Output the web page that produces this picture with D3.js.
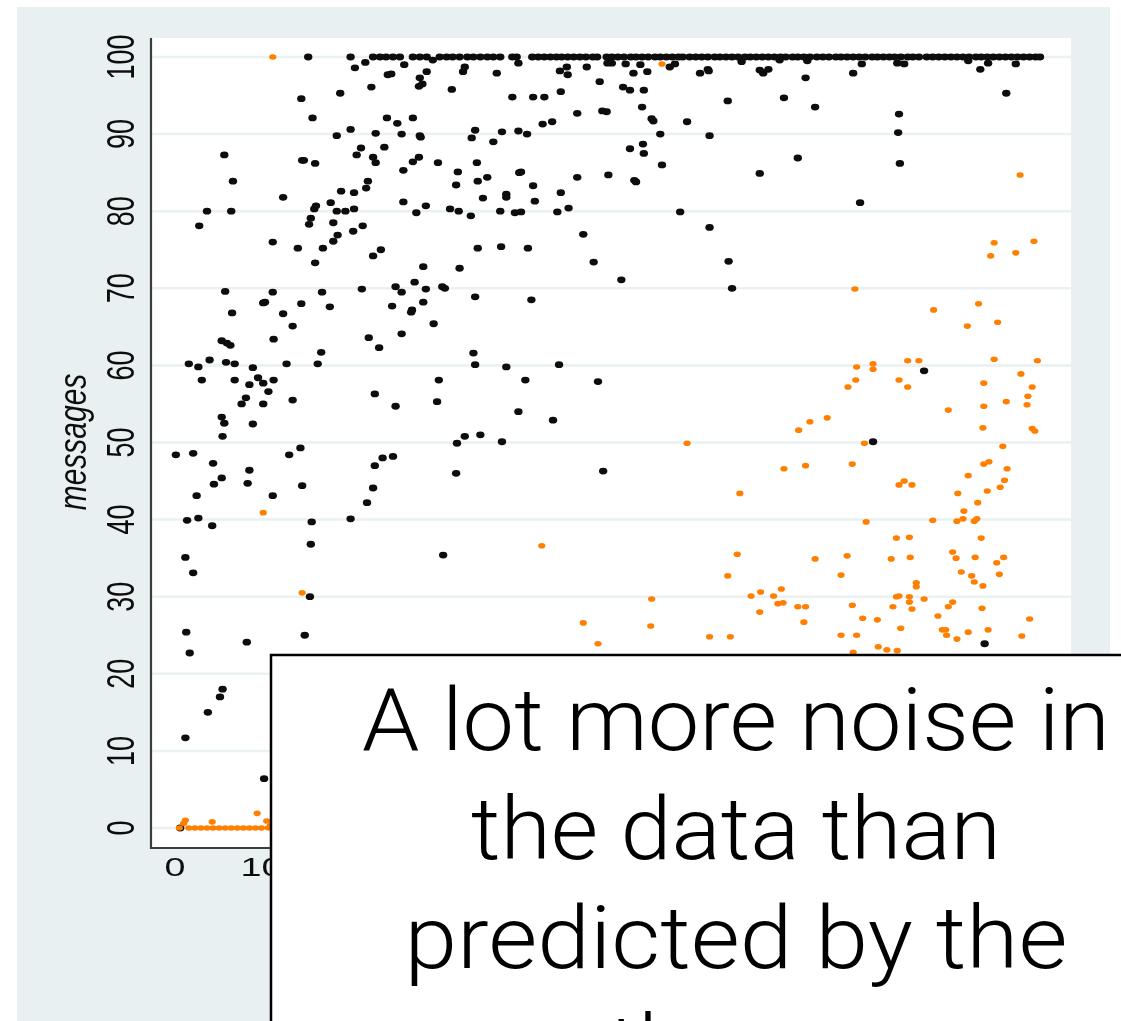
<!DOCTYPE html>
<html>
<head>
<meta charset="utf-8">
<script src="https://cdn.jsdelivr.net/npm/d3@7"></script>
<style>
  html, body { margin: 0; padding: 0; background: #ffffff; overflow: hidden; }
  svg { display: block; }
</style>
</head>
<body>
<svg id="chart" width="1121" height="1021"></svg>
<script>
// Axis ticks (only the x labels left of the callout are visible)
const yTickValues = [0, 10, 20, 30, 40, 50, 60, 70, 80, 90, 100];
const xTickValues = [0, 10];
const yAxisTitle = "messages";

// Callout text, one entry per line, with the set width of each full line
const calloutLines = ["A lot more noise in", "the data than", "predicted by the", "theory"];
const calloutWidths = [748, 530, 663, null];

// Observations sent at the full 100 messages (black series)
const fullMessagesX = [
  15.4, 20.3, 22.9, 23.7, 24.4, 25.2, 26.0, 27.5, 28.3, 29.1, 30.6, 31.4, 32.1, 32.9, 33.8,
  34.5, 35.3, 36.1, 36.8, 37.6, 39.0, 39.5, 41.3, 42.0, 42.7, 43.4, 44.1, 44.7, 45.4, 46.1,
  46.8, 47.5, 48.3, 48.8, 49.9, 50.5, 51.2, 51.9, 52.7, 53.3, 54.0, 54.7, 55.5, 56.1, 56.8,
  57.5, 58.2, 58.7, 59.5, 60.2, 60.9, 61.6, 62.4, 63.0, 63.7, 64.4, 65.1, 65.9, 66.5, 67.2,
  67.9, 68.6, 69.3, 70.0, 70.6, 71.4, 72.0, 72.7, 73.4, 74.2, 74.9, 75.6, 76.4, 77.0, 77.7,
  78.4, 79.1, 79.8, 80.6, 81.2, 81.9, 82.6, 83.2, 83.9, 84.7, 85.3, 86.0, 86.9, 87.6, 88.3,
  89.0, 89.7, 90.4, 91.1, 91.8, 92.6, 93.2, 93.9, 94.6, 95.3, 96.0, 96.7, 97.4, 98.1, 98.8,
  99.5, 100
];

// Remaining black observations [x, messages]
const blackPoints = [
  [0.1,48.4],[1.2,35.1],[2.1,33.1],[1.3,25.4],[1.7,22.7],[1.2,11.7],[1.4,39.9],[2.7,40.2],
  [2.1,48.6],[1.6,60.2],[2.7,59.8],[2.8,78.1],[3.7,80.0],[5.7,87.3],[6.7,83.9],[6.5,80.0],
  [2.5,43.1],[4.4,47.3],[4.3,39.2],[3.8,15.0],[5.2,17.0],[5.5,18.0],[4.0,60.7],[3.1,58.1],
  [4.5,44.6],[5.4,45.4],[5.4,53.3],[5.7,52.5],[5.5,50.8],[5.4,63.2],[6.0,62.9],[6.4,62.6],
  [5.9,60.4],[6.9,60.2],[6.9,58.1],[6.6,66.8],[5.8,69.6],[8.2,55.8],[7.7,55.0],[8.6,57.5],
  [8.6,46.4],[8.4,44.7],[9.0,59.7],[9.0,52.4],[8.3,24.1],[9.6,58.4],[10.2,57.7],[10.2,55.0],
  [10.4,68.2],[10.2,68.1],[10.3,6.4],[11.3,76.0],[11.3,69.5],[11.4,63.4],[11.4,58.1],
  [10.8,56.6],[11.3,43.1],[0.6,0],
  [12.5,81.8],[12.5,66.7],[12.9,60.2],[13.2,48.4],[13.6,65.1],[13.6,55.5],[14.2,75.2],
  [14.5,49.3],[14.6,94.6],[14.7,86.6],[14.9,86.6],[14.6,68.0],[14.7,44.4],[15.0,25.0],
  [15.6,30.0],[15.7,79.1],[15.5,78.3],[15.7,36.8],[15.8,39.7],[15.9,92.1],[16.1,80.3],
  [16.2,86.2],[16.2,73.3],[16.3,80.7],[16.5,60.2],[16.9,61.7],[17.0,69.5],[17.1,75.2],
  [17.9,67.6],[18.0,81.1],[18.3,78.5],[18.7,89.8],[18.7,80.0],[18.8,76.9],[18.3,76.1],
  [19.1,95.3],[19.2,82.6],[19.7,80.0],[20.3,90.6],[20.3,40.1],[20.6,77.4],[20.7,82.4],
  [20.7,80.3],[20.8,98.6],[21.0,87.3],[21.5,88.2],[21.6,69.9],[21.7,78.1],[22.0,99.3],
  [22.1,83.0],[22.3,83.9],[22.4,63.6],[22.2,42.2],[22.7,96.1],[22.9,87.0],[22.9,74.2],
  [22.9,44.1],[23.1,47.0],[23.1,56.3],[23.2,90.1],[23.2,86.3],[23.6,62.3],[23.8,75.0],
  [24.0,48.0],[24.2,88.3],[24.5,92.1],[24.6,97.7],[25.0,97.8],[25.1,67.7],[25.2,48.2],
  [25.5,70.2],[25.5,54.7],[25.7,91.4],
  [26.5,99.0],[26.2,90.0],[26.4,85.3],[26.4,81.2],[26.2,69.5],[26.2,64.1],[27.3,66.9],
  [27.4,67.2],[27.5,92.1],[27.5,86.4],[27.7,70.8],[27.9,79.8],[28.3,97.3],[28.2,96.2],
  [28.6,96.5],[28.3,89.8],[28.4,89.6],[28.2,87.0],[28.7,72.8],[28.7,68.2],[29.1,98.1],
  [29.0,80.7],[29.0,69.9],[29.8,99.6],[29.9,65.4],[30.3,55.3],[30.4,86.3],[30.5,58.1],
  [30.9,70.2],[31.2,70.0],[31.0,35.4],[31.8,80.3],[32.0,95.8],[32.5,46.0],[32.6,49.9],
  [32.7,85.1],[32.5,83.4],[32.8,80.0],[32.9,72.6],[33.3,98.1],[33.5,98.7],[33.5,50.8],
  [34.2,79.4],[34.3,89.5],[34.5,61.6],[34.7,90.5],[34.7,68.9],[34.7,60.1],[34.9,86.3],
  [35.0,83.9],[35.0,75.2],[35.3,51.0],[35.6,81.7],[36.1,84.4],[36.8,89.0],[37.2,97.9],
  [37.6,80.0],[37.7,75.4],[37.8,90.3],[37.8,50.1],[38.3,82.2],[38.3,81.8],[38.3,59.8],
  [39.0,94.8],[39.3,79.8],[39.7,99.2],[39.7,90.4],[39.7,54.0],[39.8,85.0],[40.0,85.1],
  [40.0,79.9],
  [40.5,58.1],[40.7,90.0],[40.8,75.2],[41.2,68.5],[41.4,94.8],[41.4,83.3],[41.6,81.3],
  [42.5,91.3],[42.7,94.8],[43.6,91.6],[43.7,52.9],[44.2,79.9],[44.4,60.1],[44.5,98.2],
  [44.6,95.5],[44.6,82.4],[45.3,98.7],[45.4,97.7],[45.5,80.4],[46.5,92.7],[46.5,84.4],
  [47.2,77.0],[47.6,98.7],[48.4,73.4],[48.9,57.9],[49.1,96.8],[49.4,93.0],[49.9,92.9],
  [49.5,46.3],[50.0,99.2],[50.1,84.7],[50.5,99.2],[51.6,71.1],[51.8,96.1],[52.1,99.1],
  [52.6,95.7],[52.6,88.1],[53.0,97.9],[53.1,84.0],[53.3,83.8],[53.8,99.0],[54.0,93.5],
  [54.1,88.7],[54.2,95.7],[54.2,87.5],[54.6,98.1],[55.1,92.0],[55.3,91.7],[56.1,90.0],
  [56.3,86.0],[57.2,98.7],[57.8,99.1],[58.4,79.9],[59.2,91.6],
  [60.7,97.9],[61.6,98.4],[61.7,98.2],[61.8,89.8],[61.8,77.9],[63.9,94.3],[64.0,73.5],
  [64.4,70.0],[65.5,99.4],[67.6,98.3],[68.0,97.9],[68.6,98.4],[67.6,84.9],[69.9,99.6],
  [70.4,94.7],[72.0,86.9],[72.9,97.3],[73.1,99.5],[74.0,93.5],[78.4,97.9],[79.2,81.1],
  [79.4,99.1],[80.7,50.1],[83.5,99.2],[84.3,99.1],[83.7,92.6],[83.6,90.2],[83.8,86.2],
  [86.6,59.3],[91.7,99.5],[93.1,98.4],[94.0,99.2],[93.6,23.9],[96.1,95.3],[97.2,99.1]
];

// Orange observations [x, messages]
const orangePoints = [
  [11.3,100],[56.3,99.1],[10.2,40.9],[14.7,30.5],
  [0.5,0],[1.0,0.6],[1.2,1.0],[1.6,0],[2.3,0],[3.0,0],[3.7,0],[4.3,0.8],[4.4,0],[5.1,0],
  [5.8,0],[6.5,0],[7.2,0],[7.9,0],[8.6,0],[9.3,0],[9.5,1.9],[10.0,0],[10.6,0.9],[10.8,0],
  [11.0,0.3],
  [42.4,36.6],[47.2,26.6],[48.9,23.9],[55.1,29.7],[55.0,26.2],[59.2,49.9],[61.8,24.8],
  [64.2,24.8],[63.9,32.7],[65.0,35.5],[65.3,43.4],[66.6,30.1],[67.7,30.6],[67.6,28.0],
  [69.2,30.1],[69.7,29.1],[70.3,29.2],[70.1,31.0],[70.4,46.6],[72.0,28.7],[72.9,28.7],
  [72.7,26.7],[72.9,47.0],[72.1,51.6],[73.4,52.7],[75.4,53.2],[74.0,34.9],[77.0,32.8],
  [77.0,25.0],[77.7,35.3],[77.8,57.2],[78.3,47.2],[78.3,28.9],[78.4,22.8],[78.6,69.9],
  [78.7,58.1],[78.8,59.8],[78.8,25.0],[79.5,27.2],[79.7,49.9],[79.9,39.7],[80.7,60.2],
  [80.7,59.5],[81.2,27.0],[81.3,23.5],[82.3,23.1],[82.8,34.9],[83.0,28.7],[83.4,37.6],
  [83.4,30.0],[83.5,23.0],[83.7,30.1],[83.7,58.1],[83.7,44.5],[83.9,25.9],[84.3,45.0],
  [84.7,60.6],[84.7,57.2],[84.9,37.7],[84.9,30.0],[84.9,29.3],[85.0,35.1],[85.2,44.5],
  [85.2,28.4],[85.7,31.8],[85.7,31.3],[86.0,60.6],[86.6,29.7],[87.6,39.9],[87.7,67.2],
  [88.2,27.5],[88.7,25.7],[89.1,25.7],[89.2,25.0],[89.4,54.2],[89.4,28.7],[89.9,35.8],
  [89.9,29.3],[90.3,35.0],[90.4,39.8],[90.4,24.5],[90.5,43.4],[90.9,33.2],[91.1,40.1],
  [91.2,41.1],[91.6,65.1],[91.7,45.7],[91.7,25.4],[92.1,32.7],[92.4,31.9],[92.4,39.8],
  [92.5,35.1],[92.7,40.1],[92.8,42.2],[92.9,68.0],[93.2,37.6],[93.3,28.5],[93.4,51.9],
  [93.4,31.4],[93.5,57.7],[93.5,54.7],[93.5,47.2],[93.9,43.7],[94.0,25.7],[94.1,47.5],
  [94.3,74.2],[94.7,75.9],[94.7,60.8],[95.0,34.4],[95.1,65.6],[95.3,32.9],[95.4,44.2],
  [95.7,49.5],[95.8,35.1],[95.9,45.1],[96.1,55.3],[96.2,46.6],[97.2,74.6],[97.7,84.7],
  [97.8,58.9],[97.9,24.9],[98.5,54.9],[98.6,56.0],[98.8,27.1],[99.1,57.2],[99.1,51.8],
  [99.3,76.1],[99.4,51.5],[99.7,60.6]
];

const blackSeries = fullMessagesX.map(x => [x, 100]).concat(blackPoints);

// ---- layout ----
const svg = d3.select("#chart");
const W = 1121, H = 1021;
const plot = { left: 152, right: 1071, top: 38, bottom: 848 };
const stretch = 1.45;   // the graph is rendered wider than tall

const x = d3.scaleLinear().domain([0, 100]).range([175, 1040]);
const y = d3.scaleLinear().domain([0, 100]).range([828, 57]);

const defs = svg.append("defs");
defs.append("filter").attr("id", "soft")
  .attr("x", "-5%").attr("y", "-5%").attr("width", "110%").attr("height", "110%")
  .append("feGaussianBlur").attr("stdDeviation", 0.55);

svg.append("rect").attr("width", W).attr("height", H).attr("fill", "#ffffff");

const graph = svg.append("g").attr("filter", "url(#soft)");

// graph region
graph.append("rect")
  .attr("x", 17).attr("y", 7).attr("width", 1093).attr("height", H - 7)
  .attr("fill", "#e8f0f2");

// plot region
graph.append("rect")
  .attr("x", plot.left).attr("y", plot.top)
  .attr("width", plot.right - plot.left).attr("height", plot.bottom - plot.top)
  .attr("fill", "#ffffff");

// horizontal grid lines
graph.append("g").selectAll("line").data(yTickValues).join("line")
  .attr("x1", plot.left).attr("x2", plot.right)
  .attr("y1", d => y(d)).attr("y2", d => y(d))
  .attr("stroke", "#e9f1f3").attr("stroke-width", 2.5);

// axis lines
graph.append("line")
  .attr("x1", plot.left - 1).attr("x2", plot.left - 1)
  .attr("y1", plot.top).attr("y2", plot.bottom + 1)
  .attr("stroke", "#3c3c3c").attr("stroke-width", 2.2);
graph.append("line")
  .attr("x1", plot.left - 2).attr("x2", plot.right)
  .attr("y1", plot.bottom).attr("y2", plot.bottom)
  .attr("stroke", "#3c3c3c").attr("stroke-width", 2.2);

// y tick labels (rotated)
graph.append("g").selectAll("text").data(yTickValues).join("text")
  .attr("transform", d => `translate(134,${y(d)}) scale(${stretch},1) rotate(-90)`)
  .attr("text-anchor", "middle")
  .attr("font-family", "'Liberation Sans', Arial, sans-serif")
  .attr("font-size", 27)
  .attr("fill", "#111111")
  .text(d => d);

// x tick labels
graph.append("g").selectAll("text").data(xTickValues).join("text")
  .attr("transform", d => `translate(${x(d)},876) scale(${stretch},1)`)
  .attr("text-anchor", "middle")
  .attr("font-family", "'Liberation Sans', Arial, sans-serif")
  .attr("font-size", 26)
  .attr("fill", "#111111")
  .text(d => d);

// y axis title
graph.append("text")
  .attr("transform", `translate(86,442) scale(1.3,1) rotate(-90)`)
  .attr("text-anchor", "middle")
  .attr("font-family", "'Liberation Sans', Arial, sans-serif")
  .attr("font-style", "italic")
  .attr("font-size", 30)
  .attr("fill", "#111111")
  .text(yAxisTitle);

// points
graph.append("g").selectAll("ellipse").data(blackSeries).join("ellipse")
  .attr("cx", d => x(d[0])).attr("cy", d => y(d[1]))
  .attr("rx", 4.2).attr("ry", 3.4)
  .attr("fill", "#0a0a0a");

graph.append("g").selectAll("ellipse").data(orangePoints).join("ellipse")
  .attr("cx", d => x(d[0])).attr("cy", d => y(d[1]))
  .attr("rx", 3.6).attr("ry", 2.8)
  .attr("fill", "#ff7f00");

// callout box
const callout = svg.append("g");
callout.append("rect")
  .attr("x", 271).attr("y", 655).attr("width", 1000).attr("height", 600)
  .attr("fill", "#ffffff").attr("stroke", "#000000").attr("stroke-width", 2.5);

const lineGap = 109;
const textLayer = callout.append("g");
const calloutText = textLayer.selectAll("text").data(calloutLines).join("text")
  .attr("x", 0).attr("y", (d, i) => i * lineGap)
  .attr("text-anchor", "middle")
  .attr("font-family", "Roboto, 'Open Sans', sans-serif")
  .attr("font-weight", 300)
  .attr("font-size", 88)
  .attr("fill", "#000000")
  .text(d => d);

// scale the block so the first line gets its set width, then fit the other full lines
const firstWidth = calloutText.nodes()[0].getComputedTextLength();
const sx = calloutWidths[0] / firstWidth;
textLayer.attr("transform", `translate(736,750) scale(${sx},1)`);
calloutText
  .filter((d, i) => i > 0 && calloutWidths[i])
  .attr("textLength", (d, i, nodes) => {
    const idx = calloutLines.indexOf(d);
    return calloutWidths[idx] / sx;
  })
  .attr("lengthAdjust", "spacingAndGlyphs");
</script>
</body>
</html>
